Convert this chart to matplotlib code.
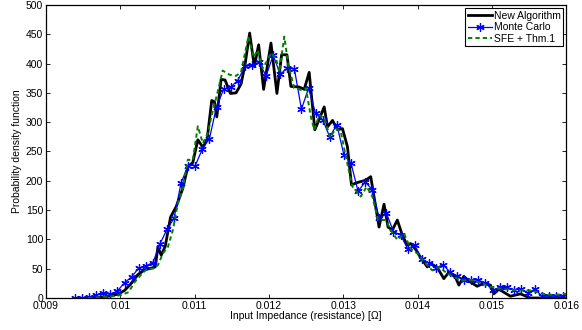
import numpy as np
import matplotlib
matplotlib.use("Agg")
import matplotlib.pyplot as plt
from matplotlib.ticker import FormatStrFormatter

plt.rcParams['font.family'] = ['Liberation Sans', 'DejaVu Sans']

# New Algorithm (black, thick)
new_x = [0.009611, 0.009745, 0.009879, 0.009978, 0.010058, 0.010148, 0.010237, 0.010327,
         0.010416, 0.010470, 0.010506, 0.010550, 0.010604, 0.010676, 0.010752, 0.010841,
         0.010908, 0.010975, 0.011043, 0.011110, 0.011168, 0.011230, 0.011266, 0.011298,
         0.011356, 0.011409, 0.011481, 0.011557, 0.011624, 0.011678, 0.011740, 0.011803,
         0.011861, 0.011928, 0.012027, 0.012107, 0.012170, 0.012242, 0.012295, 0.012407,
         0.012474, 0.012541, 0.012617, 0.012676, 0.012743, 0.012787, 0.012855, 0.012922,
         0.012989, 0.013056, 0.013110, 0.013190, 0.013302, 0.013369, 0.013481, 0.013548,
         0.013602, 0.013660, 0.013727, 0.013794, 0.013861, 0.013906, 0.013973, 0.014040,
         0.014130, 0.014174, 0.014264, 0.014353, 0.014421, 0.014510, 0.014555, 0.014622,
         0.014689, 0.014801, 0.014890, 0.014980, 0.015025, 0.015092, 0.015248, 0.015383,
         0.015517, 0.016000]
new_y = [0, 1, 4, 7, 13, 25, 40, 48,
         51, 53, 87, 73, 88, 138, 156, 187,
         224, 231, 270, 257, 271, 337, 335, 309,
         373, 372, 349, 350, 365, 398, 452, 395,
         432, 356, 435, 349, 415, 415, 361, 360,
         356, 385, 287, 305, 326, 292, 303, 287,
         289, 258, 193, 197, 201, 207, 121, 160,
         121, 116, 133, 107, 90, 93, 83, 69,
         53, 59, 52, 33, 44, 35, 22, 37,
         29, 20, 25, 22, 7, 15, 3, 7,
         0, 0]

# Monte Carlo (blue with asterisks), histogram bin centres
mc_x = np.linspace(0.00939, 0.01596, 70)
mc_y = [0, 0, 1, 5, 9, 6, 12, 26, 36, 51, 55, 60, 92, 117, 136, 197, 226, 226, 254, 272,
        326, 356, 360, 371, 395, 397, 402, 379, 414, 382, 392, 391, 322, 358,
        315, 304, 275, 296, 244, 230, 182, 198, 185, 136, 145, 113, 108, 84, 90, 66,
        60, 51, 57, 44, 38, 31, 31, 30, 26, 13, 18, 18, 14, 15, 9, 15, 3, 3, 3, 3]

# SFE + Thm.1 (green dashed)
sfe_x = [0.009566, 0.009834, 0.010013, 0.010112, 0.010192, 0.010282, 0.010362, 0.010438,
         0.010506, 0.010573, 0.010640, 0.010707, 0.010774, 0.010841, 0.010908, 0.010975,
         0.011043, 0.011110, 0.011177, 0.011230, 0.011289, 0.011378, 0.011468, 0.011557,
         0.011624, 0.011678, 0.011723, 0.011794, 0.011848, 0.011915, 0.011982, 0.012027,
         0.012094, 0.012139, 0.012206, 0.012260, 0.012340, 0.012430, 0.012497, 0.012564,
         0.012609, 0.012676, 0.012743, 0.012823, 0.012899, 0.012966, 0.013034, 0.013123,
         0.013235, 0.013315, 0.013391, 0.013468, 0.013570, 0.013638, 0.013727, 0.013817,
         0.013906, 0.013996, 0.014107, 0.014197, 0.014286, 0.014398, 0.014488, 0.014577,
         0.014711, 0.014846, 0.014980, 0.015114, 0.015248, 0.015383, 0.015517, 0.015606,
         0.015696, 0.015830, 0.016000]
sfe_y = [0, 2, 5, 10, 27, 40, 50, 50,
         56, 76, 87, 116, 161, 187, 236, 235,
         293, 264, 281, 312, 341, 388, 381, 379,
         385, 418, 446, 411, 423, 392, 406, 418,
         409, 386, 446, 398, 358, 355, 358, 309,
         287, 312, 307, 274, 289, 284, 241, 190,
         173, 190, 173, 133, 133, 116, 99, 110,
         84, 76, 59, 47, 53, 42, 36, 30,
         31, 26, 19, 16, 14, 13, 13, 10,
         7, 5, 7]

fig = plt.figure(figsize=(5.82, 3.30), dpi=100)
ax = fig.add_axes([0.079, 0.097, 0.894, 0.888])

ax.plot(new_x, new_y, color='black', lw=2.0, label='New Algorithm')
ax.plot(mc_x, mc_y, color='blue', lw=0.9, marker=(6, 2, 0), ms=6, mew=0.9,
        label='Monte Carlo')
ax.plot(sfe_x, sfe_y, color=(0, 0.5, 0), lw=1.4, ls=(0, (2.2, 1.6)),
        label='SFE + Thm.1')

ax.set_xlim(0.009, 0.016)
ax.set_ylim(0, 500)
ax.set_xticks([0.009, 0.010, 0.011, 0.012, 0.013, 0.014, 0.015, 0.016])
ax.set_yticks(range(0, 501, 50))
ax.xaxis.set_major_formatter(FormatStrFormatter('%g'))
ax.tick_params(direction='in', top=True, right=True, labelsize=7.5,
               length=3, width=0.6, pad=2)
for s in ax.spines.values():
    s.set_linewidth(0.9)

ax.set_xlabel('Input Impedance (resistance) [Ω]', fontsize=7.5, labelpad=0)
ax.set_ylabel('Probability density function', fontsize=7.5, labelpad=3)

leg = ax.legend(loc='upper right', fontsize=7.5, frameon=True, fancybox=False,
                edgecolor='black', framealpha=1, borderpad=0.25,
                handlelength=2.3, handletextpad=0.2, labelspacing=0.15,
                borderaxespad=0.3)
leg.get_frame().set_linewidth(0.8)

fig.savefig('out.png', dpi=100)
